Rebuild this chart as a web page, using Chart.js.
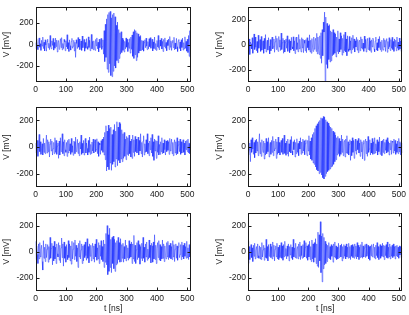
<!DOCTYPE html>
<html>
<head>
<meta charset="utf-8">
<script src="https://cdn.jsdelivr.net/npm/chart.js@4/dist/chart.umd.min.js"></script>
<style>
  html, body { margin: 0; padding: 0; background: #fff; width: 409px; height: 315px; overflow: hidden; }
  canvas { position: absolute; }
</style>
</head>
<body>
<canvas id="p0"></canvas>
<canvas id="p1"></canvas>
<canvas id="p2"></canvas>
<canvas id="p3"></canvas>
<canvas id="p4"></canvas>
<canvas id="p5"></canvas>
<script>
// one value every 2 ns, 0..510
const dt = 2;
const xMax = 512;
const xTicks = [0, 100, 200, 300, 400, 500];
const yTicks = [-200, 0, 200];
const yLimits = [350, 300, 300, 300, 300, 300];

// V [mV], 16 values per row = 32 ns
const sig1 = [
  18,-42,55,-10,-48,30,62,-25,8,-55,40,-15,70,-38,22,-60,
  45,-5,-62,28,50,-30,12,-48,85,-20,-40,35,-8,58,-52,20,
  -35,60,-18,42,-70,15,38,-45,-12,55,-28,65,-50,10,-38,48,
  25,-58,36,-22,92,-40,18,-65,44,-10,-52,30,58,-35,-15,40,
  -60,22,-120,45,10,-38,66,-25,52,-48,-8,34,-55,80,-30,15,
  48,-62,20,-35,55,-18,-45,72,-28,40,-58,12,95,-40,30,-50,
  35,-25,-55,48,-12,62,-40,22,-68,50,-30,15,58,-45,-20,44,
  -90,130,-160,190,-120,240,-230,280,-260,300,-180,310,-290,250,-300,280,
  -250,295,-200,260,-220,180,-150,210,-170,140,-130,110,-90,120,-75,60,
  -55,45,-70,30,-40,62,-25,50,-65,20,-35,55,-80,70,-45,90,
  -110,120,-130,140,-95,130,-150,110,-120,100,-80,75,-60,85,-55,40,
  -50,35,-62,18,45,-30,60,-15,-48,28,-40,55,-20,65,-35,12,
  50,-60,25,-38,70,-45,10,-55,38,-22,85,-30,-50,42,-15,58,
  -42,30,-65,48,-18,62,-35,20,-58,40,-10,52,-48,75,-25,35,
  -55,22,40,-30,68,-50,15,-42,58,-20,-65,35,48,-38,25,-60,
  45,-28,60,-52,18,-40,72,-35,30,-62,50,-75,85,-110,130,-125
];
const sig2 = [
  32,-58,45,-80,20,5,-35,55,-70,12,85,-40,60,-22,-50,25,
  -65,75,-30,18,40,-55,65,-45,8,30,-70,50,-35,80,-60,15,
  35,-45,55,-12,-75,40,-50,28,60,-35,-18,45,-62,22,70,-40,
  50,-30,-55,65,-20,38,-48,92,-40,15,50,-70,35,-60,20,45,
  -30,70,-55,12,40,-65,28,-45,58,-18,-35,62,-50,30,-72,48,
  60,-40,15,-58,80,-35,42,-20,-60,55,-28,45,-65,35,10,-50,
  40,-65,55,-25,30,-45,78,-60,35,-70,48,-22,-55,60,-38,25,
  50,-55,90,-75,60,-40,-80,70,-110,95,-150,120,-90,180,100,260,
  -300,220,-160,170,-190,150,-120,160,-140,110,-130,100,-90,120,-80,95,
  -70,85,-100,60,-55,110,-75,45,-60,95,-40,70,-85,50,-65,80,
  -50,100,-60,45,-90,70,-35,-55,65,-45,30,-70,55,-40,75,-30,
  45,-60,30,-20,58,-45,40,-65,18,35,-50,62,-28,45,-38,12,
  -55,68,-30,42,-60,25,50,-40,-15,55,-48,30,-62,38,-20,52,
  40,-35,-58,28,60,-45,15,-50,45,-25,65,-40,22,-55,35,-30,
  -45,50,-20,38,-55,30,48,-62,25,-35,55,-18,-48,40,-30,58,
  -40,25,-55,45,-15,35,-50,60,-30,20,-45,52,-35,28,-55,40
];
const sig3 = [
  30,-45,12,50,-70,25,95,-35,40,-55,-10,25,-60,65,-40,30,
  -50,18,90,-45,55,-35,40,-75,22,60,-30,45,-60,-12,35,-50,
  70,-40,50,-55,8,30,-85,45,-60,70,-35,15,100,-50,40,-65,
  55,-20,-40,35,-70,50,-45,60,-30,25,-55,65,-40,10,-62,45,
  40,-50,75,-35,-20,58,-48,30,-65,40,-15,90,-55,28,-45,50,
  -60,35,65,-45,30,-10,-60,50,-40,75,-55,20,-48,38,-30,60,
  -45,28,55,-35,-18,62,-50,40,-70,30,15,-55,48,-25,60,-40,
  75,-60,110,-95,160,-180,120,-150,165,-170,140,-120,150,-175,95,-130,
  130,-110,170,-150,120,-90,190,-140,150,-100,185,-120,175,-90,130,-110,
  100,-85,110,-70,60,-95,80,-55,70,-65,90,-50,45,-75,60,-85,
  90,-40,55,-70,80,-35,60,-45,-20,75,-60,50,-30,100,-50,35,
  -75,45,85,-60,25,-40,55,-35,100,-50,30,-65,45,-20,70,-45,
  95,-70,40,-100,60,-30,50,-85,45,-40,85,-60,20,-55,40,-35,
  70,-50,30,-45,55,-20,-60,45,-35,50,-25,40,-55,65,-30,18,
  60,-50,35,-65,25,55,-45,40,-60,70,-50,15,45,-35,60,-55,
  40,-45,25,55,-40,30,-60,45,-20,50,-35,60,-45,28,-50,40
];
const sig4 = [
  45,-60,-20,30,-110,55,-40,70,-15,-55,35,-80,50,-45,60,-30,
  40,-65,22,100,-50,35,-70,55,-10,-40,45,-90,30,-60,65,-50,
  40,-35,70,-75,15,35,-55,50,-40,80,-65,45,-30,-10,60,-85,
  40,-55,75,-45,35,-60,18,50,-40,65,-55,-25,90,-48,30,-62,
  45,-50,60,-70,25,-35,55,-45,80,-30,-60,40,-20,55,-75,35,
  -50,62,-40,28,-65,45,-15,70,-55,38,-45,60,-30,48,-58,25,
  55,-40,-65,50,-30,85,-60,45,-90,70,-100,95,-120,110,-130,140,
  -150,160,-170,175,-180,190,-200,200,-190,220,-210,215,-230,230,-240,225,
  -220,205,-200,190,-185,180,-175,160,-165,150,-150,140,-145,120,-130,110,
  -110,90,-95,70,-60,80,-50,65,-70,45,-55,90,-40,60,-65,35,
  50,-75,60,-45,85,-50,40,-60,20,55,-100,45,-65,70,-40,50,
  -85,35,60,-30,-55,48,-20,65,-45,30,-70,55,-35,40,-90,25,
  50,-100,35,60,-50,45,-70,80,-40,-15,55,-60,30,-45,65,-55,
  40,-50,70,-45,25,-30,55,-60,40,-35,75,-55,-15,45,-65,50,
  -40,60,-50,35,-25,55,-45,70,-35,40,-60,30,-20,50,-55,45,
  35,-45,60,-30,50,-55,25,-40,45,-50,65,-35,40,-60,30,-45
];
const sig5 = [
  80,-60,45,-20,-90,60,-55,70,-40,15,50,-75,-140,85,-50,35,
  -75,60,-45,20,55,-80,40,-60,110,-50,25,65,-100,45,-70,80,
  -55,35,-90,60,-15,-40,70,-65,50,-85,30,105,-45,60,-110,75,
  -50,40,-80,55,-25,-60,85,-45,60,-70,45,-95,80,-55,20,70,
  -60,90,-35,50,-75,30,-120,65,-40,85,-55,15,60,-90,45,-70,
  55,-45,75,-30,-65,100,-50,40,-85,60,-35,50,-70,25,65,-55,
  45,-80,60,-40,95,-65,30,-55,70,-90,50,-35,85,-60,40,-75,
  90,-120,60,-80,140,-100,200,-175,130,-150,180,-120,95,-160,110,-90,
  120,-130,95,-150,70,-100,85,-90,110,-60,70,-80,100,-75,55,-50,
  65,-80,40,-55,90,-70,50,-45,30,-65,85,-50,60,-40,75,-90,
  60,-55,125,-75,50,-90,15,70,-60,85,-45,55,-95,40,-50,65,
  -70,110,-50,35,-80,60,-40,75,-65,20,-55,90,-45,50,-85,65,
  45,-80,75,-55,130,-60,50,-90,25,70,-45,85,-65,55,-70,40,
  -55,90,-50,60,-75,45,-30,-55,70,-40,80,-60,50,-45,65,-55,
  40,-60,85,-40,55,-75,20,60,-50,45,-65,35,70,-45,-20,55,
  -60,75,-40,50,-55,65,-35,40,-50,80,-45,30,-60,55,-40,45
];
const sig6 = [
  80,-90,40,-60,-15,55,-45,30,-75,50,-35,65,-55,10,40,-45,
  60,-30,-50,45,-55,35,-60,70,-40,15,50,-65,30,-45,95,-50,
  40,-70,55,-35,-10,60,-45,40,-55,75,-35,50,-70,20,45,-40,
  65,-55,35,-60,50,-45,-20,70,-50,45,-65,55,-40,80,-30,25,
  -55,45,-35,60,-70,40,-25,55,-50,35,-60,95,-40,30,-45,65,
  -50,20,40,-55,60,-35,75,-60,45,-30,-50,55,-45,85,-40,35,
  70,-50,45,-65,55,-40,80,-60,40,-75,90,-55,60,-80,70,-45,
  100,-90,60,-110,150,-120,130,-70,230,-160,120,-230,140,-130,110,-100,
  80,-90,60,-75,50,-45,70,-55,40,-60,55,-35,45,-80,60,-40,
  75,-50,45,-60,35,-55,65,-45,20,50,-40,60,-70,40,-50,55,
  -35,45,-55,60,-40,35,-50,65,-45,40,-60,50,-35,55,-45,40,
  -50,60,-35,45,-55,70,-40,50,-60,35,-45,55,-40,75,-50,45,
  -40,30,55,-45,60,-35,-20,50,-55,40,-65,45,-30,55,-40,25,
  60,-45,35,-55,50,-30,70,-45,40,-60,-15,55,-50,45,-35,65,
  -40,50,-60,45,-30,55,-45,75,-50,35,-40,60,-55,40,-35,50,
  -45,60,-35,40,-55,45,-30,50,-40,35,-50,45,-25,40,-45,30
];
const signals = [sig1, sig2, sig3, sig4, sig5, sig6];

const FONT = { family: '"Liberation Sans", Arial, Helvetica, sans-serif', size: 8.5 };
const INK = '#1a1a1a';

// canvas placement per row / column
const colLeft = [0, 204];
const colWidth = [204, 205];
const rowTop = [0, 100, 205];
const rowPad = [
  { top: 2.5, bottom: 10 },
  { top: 7, bottom: 5 },
  { top: 7.5, bottom: 0 }
];

const framePlugin = {
  id: 'frame',
  afterDatasetsDraw(chart) {
    const { ctx, chartArea: a, scales: { x, y } } = chart;
    const L = Math.round(a.left) + 0.5, R = Math.round(a.right) - 0.5;
    const T = Math.round(a.top) + 0.5, B = Math.round(a.bottom) - 0.5;
    ctx.save();
    ctx.strokeStyle = INK;
    ctx.lineWidth = 1;
    ctx.beginPath();
    x.ticks.forEach(t => {
      const px = Math.round(x.getPixelForValue(t.value)) + 0.5;
      ctx.moveTo(px, B); ctx.lineTo(px, B - 3);
      ctx.moveTo(px, T); ctx.lineTo(px, T + 3);
    });
    y.ticks.forEach(t => {
      const py = Math.round(y.getPixelForValue(t.value)) + 0.5;
      ctx.moveTo(L, py); ctx.lineTo(L + 3, py);
      ctx.moveTo(R, py); ctx.lineTo(R - 3, py);
    });
    ctx.stroke();
    ctx.strokeRect(L, T, R - L, B - T);
    ctx.restore();
  }
};

signals.forEach((sig, k) => {
  const col = k % 2, row = Math.floor(k / 2);
  const cv = document.getElementById('p' + k);
  cv.width = colWidth[col];
  cv.height = 110;
  cv.style.left = colLeft[col] + 'px';
  cv.style.top = rowTop[row] + 'px';
  const lim = yLimits[k];
  const last = row === 2;

  new Chart(cv, {
    type: 'line',
    data: {
      datasets: [{
        data: sig.map((v, i) => ({ x: i * dt, y: v })),
        borderColor: 'rgb(10,30,255)',
        borderWidth: 0.45,
        pointRadius: 0,
        tension: 0,
        fill: false
      }]
    },
    options: {
      responsive: false,
      animation: false,
      events: [],
      layout: {
        padding: {
          left: col ? 8.5 : 0,
          right: col ? 6 : 13,
          top: rowPad[row].top,
          bottom: rowPad[row].bottom
        }
      },
      plugins: { legend: { display: false }, tooltip: { enabled: false } },
      scales: {
        x: {
          type: 'linear',
          min: 0,
          max: xMax,
          grid: { display: false, drawTicks: false },
          border: { display: false },
          afterBuildTicks: s => { s.ticks = xTicks.map(v => ({ value: v })); },
          afterFit: s => { s.height = last ? 24 : 18; },
          ticks: { font: FONT, color: INK, padding: 3, maxRotation: 0, autoSkip: false },
          title: {
            display: last,
            text: 't [ns]',
            font: FONT,
            color: INK,
            padding: { top: 0, bottom: 1 }
          }
        },
        y: {
          min: -lim,
          max: lim,
          grid: { display: false, drawTicks: false },
          border: { display: false },
          afterBuildTicks: s => { s.ticks = yTicks.map(v => ({ value: v })); },
          afterFit: s => { s.width = 35.5; },
          ticks: { font: FONT, color: INK, padding: 2 },
          title: {
            display: true,
            text: 'V [mV]',
            font: FONT,
            color: INK,
            padding: { top: 2, bottom: 0 }
          }
        }
      }
    },
    plugins: [framePlugin]
  });
});
</script>
</body>
</html>
